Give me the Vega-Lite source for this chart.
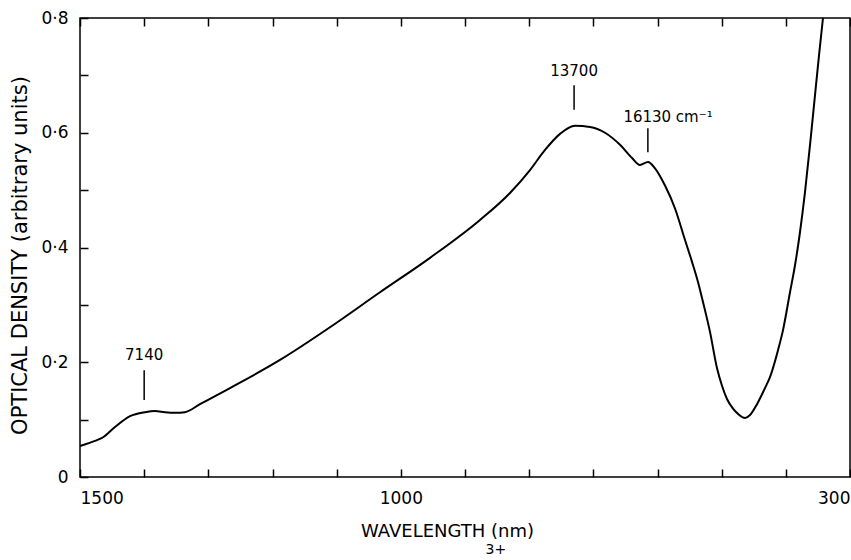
{
  "$schema": "https://vega.github.io/schema/vega-lite/v6.json",
  "width": 770,
  "height": 459,
  "autosize": "none",
  "padding": {"left": 80, "top": 18, "right": 1, "bottom": 83},
  "background": "white",
  "config": {
    "view": {"stroke": "black", "strokeWidth": 1.5},
    "axis": {
      "grid": false,
      "domain": false,
      "labelFont": "DejaVu Sans",
      "titleFont": "DejaVu Sans",
      "labelColor": "black",
      "titleColor": "black",
      "tickColor": "black",
      "tickWidth": 1.5,
      "titleFontWeight": "normal"
    }
  },
  "datasets": {
    "spectrum": [
      {"wl": 1500, "od": 0.054},
      {"wl": 1476.6, "od": 0.063},
      {"wl": 1465.7, "od": 0.068},
      {"wl": 1445.5, "od": 0.087},
      {"wl": 1422.1, "od": 0.106},
      {"wl": 1398.7, "od": 0.113},
      {"wl": 1383.1, "od": 0.115},
      {"wl": 1367.5, "od": 0.113},
      {"wl": 1351.9, "od": 0.112},
      {"wl": 1336.4, "od": 0.113},
      {"wl": 1313.0, "od": 0.127},
      {"wl": 1266.2, "od": 0.155},
      {"wl": 1188.3, "od": 0.204},
      {"wl": 1110.4, "od": 0.261},
      {"wl": 1032.5, "od": 0.322},
      {"wl": 954.5, "od": 0.382},
      {"wl": 876.6, "od": 0.448},
      {"wl": 829.9, "od": 0.495},
      {"wl": 798.7, "od": 0.535},
      {"wl": 775.3, "od": 0.570},
      {"wl": 751.9, "od": 0.598},
      {"wl": 728.6, "od": 0.612},
      {"wl": 705.2, "od": 0.610},
      {"wl": 681.8, "od": 0.600},
      {"wl": 658.4, "od": 0.579},
      {"wl": 639.7, "od": 0.556},
      {"wl": 627.3, "od": 0.544},
      {"wl": 614.8, "od": 0.549},
      {"wl": 603.9, "od": 0.538},
      {"wl": 588.3, "od": 0.508},
      {"wl": 572.7, "od": 0.468},
      {"wl": 557.1, "od": 0.413},
      {"wl": 546.2, "od": 0.375},
      {"wl": 536.9, "od": 0.340},
      {"wl": 529.1, "od": 0.305},
      {"wl": 518.2, "od": 0.253},
      {"wl": 507.3, "od": 0.190},
      {"wl": 499.5, "od": 0.159},
      {"wl": 491.7, "od": 0.136},
      {"wl": 482.3, "od": 0.119},
      {"wl": 474.5, "od": 0.110},
      {"wl": 463.6, "od": 0.103},
      {"wl": 455.8, "od": 0.108},
      {"wl": 444.9, "od": 0.127},
      {"wl": 432.5, "od": 0.155},
      {"wl": 424.7, "od": 0.174},
      {"wl": 412.2, "od": 0.221},
      {"wl": 404.4, "od": 0.256},
      {"wl": 393.5, "od": 0.322},
      {"wl": 385.7, "od": 0.369},
      {"wl": 377.9, "od": 0.427},
      {"wl": 370.1, "od": 0.497},
      {"wl": 362.3, "od": 0.579},
      {"wl": 354.5, "od": 0.666},
      {"wl": 348.3, "od": 0.735},
      {"wl": 342.1, "od": 0.800}
    ],
    "markers": [
      {"wl": 1400, "od": 0.186, "od2": 0.134},
      {"wl": 730, "od": 0.683, "od2": 0.640},
      {"wl": 615, "od": 0.608, "od2": 0.566}
    ],
    "labels": [
      {"wl": 1400, "od": 0.213, "t": "7140"},
      {"wl": 730, "od": 0.708, "t": "13700"},
      {"wl": 583.6, "od": 0.627, "t": "16130 cm⁻¹"}
    ],
    "caption": [
      {"wl": 852, "od": -0.127, "t": "3+"}
    ]
  },
  "resolve": {"axis": {"x": "independent"}},
  "encoding": {
    "y": {
      "field": "od", "type": "quantitative",
      "scale": {"domain": [0, 0.8], "nice": false, "zero": true},
      "axis": {
        "orient": "left",
        "values": [0, 0.1, 0.2, 0.3, 0.4, 0.5, 0.6, 0.7, 0.8],
        "tickSize": -8,
        "labelExpr": "datum.value == 0 ? '0' : (round(datum.value * 10) % 2 == 0 ? replace(format(datum.value, '.1f'), '.', '·') : '')",
        "labelFontSize": 17,
        "labelPadding": 20,
        "title": "OPTICAL DENSITY (arbitrary units)",
        "titleFontSize": 21,
        "titleAngle": 270,
        "titleX": -60,
        "titleY": 237,
        "titleAlign": "center",
        "titleBaseline": "middle"
      }
    }
  },
  "layer": [
    {
      "data": {"name": "spectrum"},
      "mark": {"type": "line", "color": "black", "strokeWidth": 2, "interpolate": "monotone"},
      "encoding": {
        "x": {
          "field": "wl", "type": "quantitative",
          "scale": {"domain": [300, 1500], "reverse": true, "nice": false, "zero": false},
          "axis": {
            "orient": "bottom",
            "values": [1500, 1400, 1300, 1200, 1100, 1000, 900, 800, 700, 600, 500, 400, 300],
            "tickSize": -8,
            "labelExpr": "(datum.value == 1500 || datum.value == 1000 || datum.value == 300) ? datum.value + '' : ''",
            "labelFlush": true,
            "labelFontSize": 17,
            "labelPadding": 21,
            "title": "WAVELENGTH (nm)",
            "titleFontSize": 18,
            "titleX": 367,
            "titleAlign": "center",
            "titlePadding": 16
          }
        }
      }
    },
    {
      "data": {"name": "spectrum"},
      "mark": {"type": "line", "opacity": 0},
      "encoding": {
        "x": {
          "field": "wl", "type": "quantitative",
          "axis": {
            "orient": "top",
            "values": [1500, 1400, 1300, 1200, 1100, 1000, 900, 800, 700, 600, 500, 400, 300],
            "tickSize": -8,
            "labels": false,
            "title": null
          }
        }
      }
    },
    {
      "data": {"name": "markers"},
      "mark": {"type": "rule", "color": "black", "strokeWidth": 1.5},
      "encoding": {
        "x": {"field": "wl", "type": "quantitative", "axis": null},
        "y2": {"field": "od2"}
      }
    },
    {
      "data": {"name": "labels"},
      "mark": {"type": "text", "color": "black", "font": "DejaVu Sans", "fontSize": 15, "baseline": "middle", "align": "center"},
      "encoding": {
        "x": {"field": "wl", "type": "quantitative", "axis": null},
        "text": {"field": "t"}
      }
    },
    {
      "data": {"name": "caption"},
      "mark": {"type": "text", "color": "black", "font": "DejaVu Sans", "fontSize": 14, "baseline": "middle", "align": "center", "clip": false},
      "encoding": {
        "x": {"field": "wl", "type": "quantitative", "axis": null},
        "text": {"field": "t"}
      }
    }
  ]
}
